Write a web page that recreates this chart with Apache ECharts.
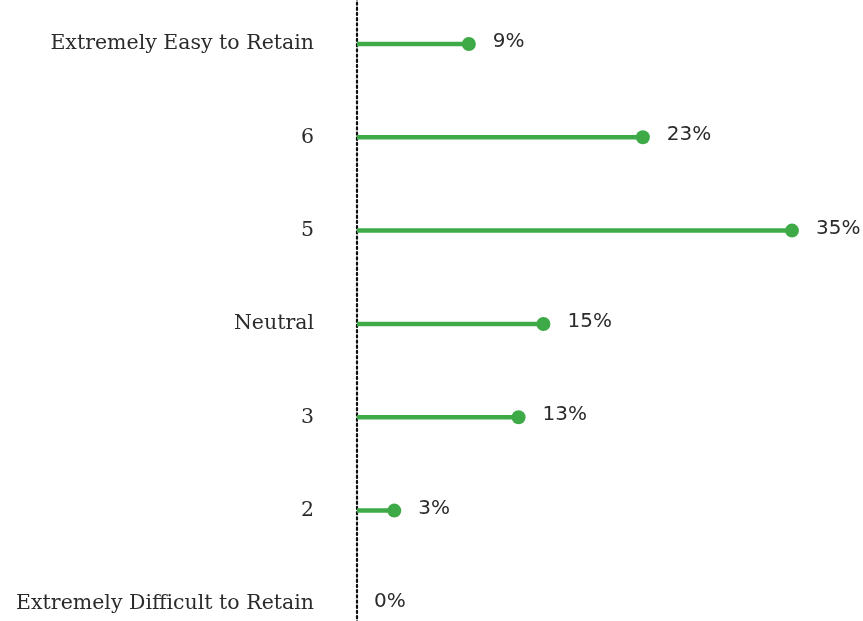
<!DOCTYPE html>
<html>
<head>
<meta charset="utf-8">
<script src="https://cdn.jsdelivr.net/npm/echarts@6/dist/echarts.min.js"></script>
<style>
  html, body { margin: 0; padding: 0; background: #ffffff; }
  #chart { width: 863px; height: 621px; }
</style>
</head>
<body>
<div id="chart"></div>
<script>
// Retention ease ratings, listed top to bottom
const categories = [
  'Extremely Easy to Retain',
  '6',
  '5',
  'Neutral',
  '3',
  '2',
  'Extremely Difficult to Retain'
];
// Share of responses per rating (%)
const shares = [9, 23, 35, 15, 13, 3, 0];

const GREEN = '#3daa47';
const TEXT = '#2b2b2b';

const chart = echarts.init(document.getElementById('chart'), null, { renderer: 'canvas' });

chart.setOption({
  animation: false,
  grid: {
    left: 357, right: 71, top: -2.7, height: 653.3,
    containLabel: false,
    outerBoundsMode: 'none'
  },
  xAxis: {
    type: 'value',
    min: 0,
    max: 35,
    show: false
  },
  yAxis: {
    type: 'category',
    data: categories,
    inverse: true,
    boundaryGap: true,
    axisTick: { show: false },
    axisLine: {
      show: true,
      lineStyle: { color: '#111111', width: 2.2, type: [2.2, 3] }
    },
    axisLabel: {
      margin: 43,
      padding: [4, 0, 0, 0],
      color: TEXT,
      fontFamily: 'DejaVu Serif',
      fontSize: 20.5
    },
    splitLine: { show: false }
  },
  series: [
    {
      // stem of each lollipop
      type: 'bar',
      data: shares,
      barWidth: 4.5,
      itemStyle: { color: GREEN },
      silent: true
    },
    {
      // head of each lollipop, carrying the value label
      type: 'scatter',
      data: shares,
      symbol: 'circle',
      symbolSize: v => (v > 0 ? 14 : 0),
      itemStyle: { color: GREEN, opacity: 1 },
      label: {
        show: true,
        position: 'right',
        distance: 17,
        offset: [0, -2],
        formatter: p => p.value + '%',
        color: TEXT,
        fontFamily: 'DejaVu Sans',
        fontSize: 20
      },
      z: 3
    }
  ]
});
</script>
</body>
</html>
